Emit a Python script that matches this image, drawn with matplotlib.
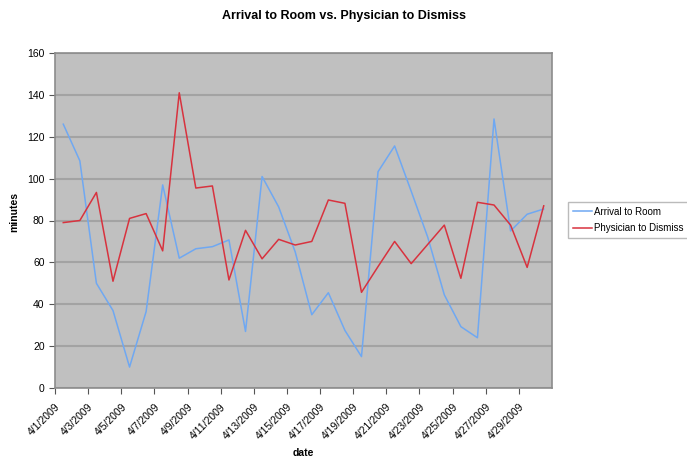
import numpy as np
import matplotlib
matplotlib.use("Agg")
import matplotlib.pyplot as plt

plt.rcParams['font.family'] = ['Liberation Sans', 'DejaVu Sans']

dates = [f"4/{d}/2009" for d in range(1, 31)]
arrival_to_room = [126, 108.5, 50, 37, 10, 36.5, 97, 62, 66.5, 67.5,
                   70.7, 27, 101, 86.5, 65, 35, 45.5, 27.5, 15, 103.3,
                   115.6, 94, 72, 44.5, 29.3, 24, 128.5, 75, 83, 85.5]
physician_to_dismiss = [79, 80, 93.4, 51, 81, 83.3, 65.5, 141, 95.5, 96.5,
                        51.6, 75.3, 61.7, 71, 68.3, 70, 89.8, 88.2, 45.7, 58,
                        70, 59.4, 68.6, 77.8, 52.4, 88.7, 87.4, 77.8, 57.6, 87]

x = np.arange(len(dates)) + 0.5

fig = plt.figure(figsize=(6.87, 4.57), dpi=100)
ax = fig.add_axes([55/687, 1-388/457, 497/687, 335/457])
ax.set_facecolor("#C0C0C0")

ax.plot(x, arrival_to_room, color="#6FA8F2", lw=1.1, label="Arrival to Room")
ax.plot(x, physician_to_dismiss, color="#D8323E", lw=1.1, label="Physician to Dismiss")

ax.set_xlim(0, len(dates))
ax.set_ylim(0, 160)
ax.set_yticks(range(0, 161, 20))
ax.set_xticks(np.arange(0, len(dates), 2))
ax.set_xticklabels(dates[::2], rotation=45, ha="right", rotation_mode="anchor")
ax.tick_params(axis="both", labelsize=7.5, colors="#555555", labelcolor="black", length=4)
ax.tick_params(axis="x", pad=6)
ax.yaxis.grid(True, color="#A3A3A3", lw=1.5)
ax.set_axisbelow(True)
for s in ax.spines.values():
    s.set_color("#8C8C8C")
    s.set_linewidth(1.2)

ax.set_xlabel("date", fontsize=7.5, fontweight="bold")
ax.xaxis.set_label_coords(0.499, -0.18)
ax.set_ylabel("minutes", fontsize=7.5, fontweight="bold")
ax.yaxis.set_label_coords(-0.072, 0.525)
fig.suptitle("Arrival to Room vs. Physician to Dismiss", fontsize=9, fontweight="bold", y=0.978)

fig.legend(loc="center left", bbox_to_anchor=(568/687, 1-220/457), fontsize=7,
           frameon=True, fancybox=False, edgecolor="#BBBBBB", framealpha=1,
           handlelength=2.0, handletextpad=0.15, borderpad=0.5, labelspacing=0.65,
           borderaxespad=0)

fig.savefig("out.png", dpi=100)
